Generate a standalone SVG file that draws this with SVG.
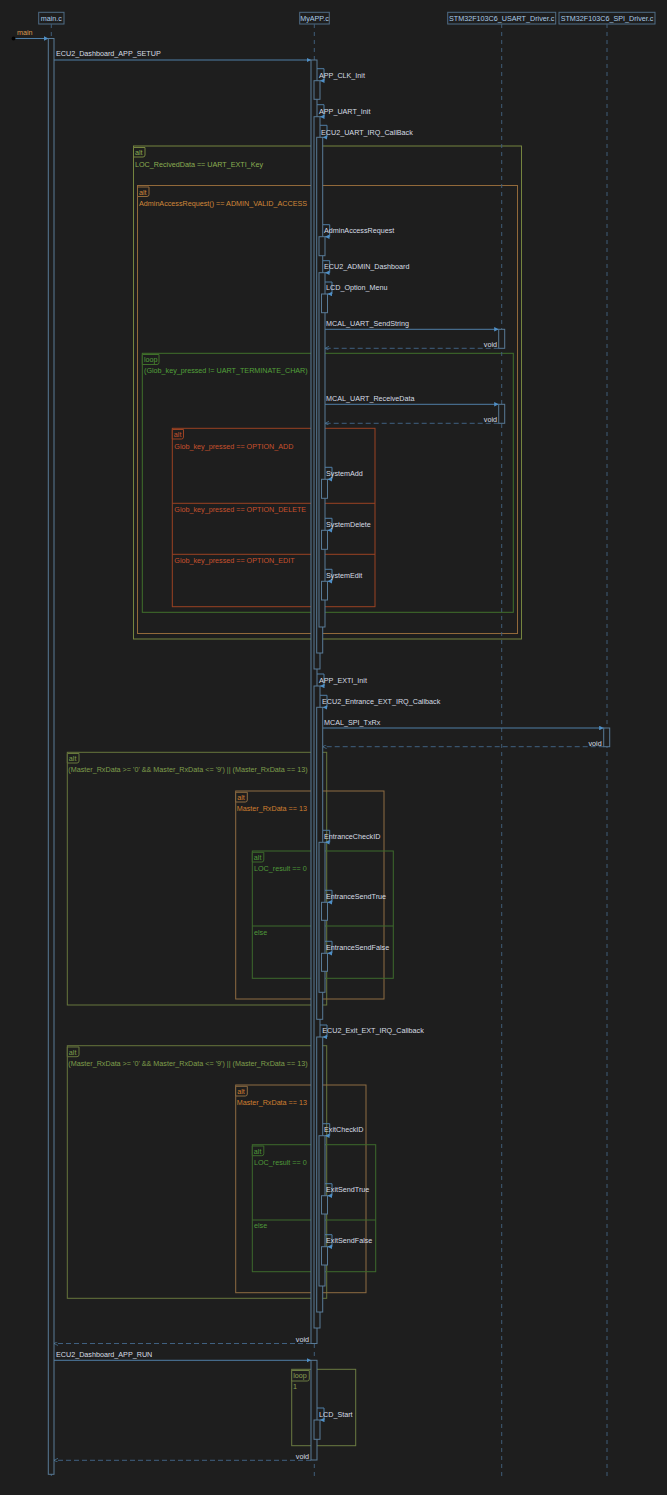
<svg xmlns="http://www.w3.org/2000/svg" width="667" height="1495" viewBox="0 0 667 1495">
<style>
text{font-family:"Liberation Sans",Arial,sans-serif;font-size:7.2px}
.hd rect{fill:#1e1e1e;stroke:#4f6c85;stroke-width:1}
.hd text{fill:#a9cbe8;text-anchor:middle}
.ll{stroke:#3f5d78;stroke-width:1;stroke-dasharray:4 4;fill:none}
.act{fill:#1e1e1e;stroke:#587a96;stroke-width:1}
.msg{stroke:#4f7ea6;stroke-width:1;fill:none;marker-end:url(#ah)}
.ret{stroke:#3f6080;stroke-width:1;stroke-dasharray:5 3;fill:none;marker-end:url(#rh)}
.lb{fill:#d6dde4}
.rl{fill:#d6dde4;text-anchor:end}
.fr{fill:none;stroke-width:1}
.tab{fill:#1e1e1e;stroke-width:1}
.ol{stroke:#75843f}.olt{fill:#8aae52}
.or{stroke:#92693a}.ort{fill:#d0883a}
.gr{stroke:#40702b}.grt{fill:#52a03a}
.rd{stroke:#9a4222}.rdt{fill:#c8512d}
.ol2{stroke:#67763c}.ol2t{fill:#7f9f4c}
.or2{stroke:#8e6c42}.or2t{fill:#cf7f30}
.gr2{stroke:#3d6a2c}.gr2t{fill:#4f9a3a}
.ol3{stroke:#6b7b42}.ol3t{fill:#8aa052}
</style>
<defs>
<marker id="ah" viewBox="0 0 6 6" refX="6" refY="3" markerWidth="4.5" markerHeight="4.5" markerUnits="userSpaceOnUse" orient="auto"><path d="M0,0 L6,3 L0,6 z" fill="#4f8fc6"/></marker>
<marker id="rh" viewBox="0 0 6 6" refX="6" refY="3" markerWidth="4" markerHeight="4" markerUnits="userSpaceOnUse" orient="auto"><path d="M0,0 L6,3 L0,6" fill="none" stroke="#4f7ea6" stroke-width="1"/></marker>
</defs>
<rect width="667" height="1495" fill="#1e1e1e"/>

<g id="frames">
<g id="alt-uart-key">
<rect class="fr ol" x="133.5" y="146" width="388" height="493"/>
<path class="tab ol" d="M133.5,147.5 H145 V155 Q145,157 143,157 H133.5 Z"/>
<text class="olt" x="135" y="155">alt</text>
<text class="olt" x="135" y="167">LOC_RecivedData == UART_EXTI_Key</text>
</g>
<g id="alt-admin">
<rect class="fr or" x="137.5" y="185.5" width="380" height="448"/>
<path class="tab or" d="M137.5,187 H149 V194.5 Q149,196.5 147,196.5 H137.5 Z"/>
<text class="ort" x="139" y="194.5">alt</text>
<text class="ort" x="139" y="206">AdminAccessRequest() == ADMIN_VALID_ACCESS</text>
</g>
<g id="loop-key">
<rect class="fr gr" x="142.3" y="353.3" width="371" height="259"/>
<path class="tab gr" d="M142.3,354.5 H159 V362.5 Q159,364.5 157,364.5 H142.3 Z"/>
<text class="grt" x="144" y="362">loop</text>
<text class="grt" x="144" y="373.3">(Glob_key_pressed != UART_TERMINATE_CHAR)</text>
</g>
<g id="alt-option">
<rect class="fr rd" x="172.3" y="428.3" width="202.7" height="178.4"/>
<path class="tab rd" d="M172.3,429.5 H183.5 V437 Q183.5,439 181.5,439 H172.3 Z"/>
<text class="rdt" x="173.8" y="436.8">alt</text>
<text class="rdt" x="174.3" y="449.3">Glob_key_pressed == OPTION_ADD</text>
<line class="fr rd" x1="172.3" y1="503.3" x2="375" y2="503.3"/>
<text class="rdt" x="174.3" y="512">Glob_key_pressed == OPTION_DELETE</text>
<line class="fr rd" x1="172.3" y1="554.3" x2="375" y2="554.3"/>
<text class="rdt" x="174.3" y="563">Glob_key_pressed == OPTION_EDIT</text>
</g>
<g id="alt-entrance-range">
<rect class="fr ol2" x="67.3" y="752.3" width="259.4" height="252.7"/>
<path class="tab ol2" d="M67.3,753.5 H79 V761 Q79,763 77,763 H67.3 Z"/>
<text class="ol2t" x="68.8" y="760.8">alt</text>
<text class="ol2t" x="68.3" y="772">(Master_RxData &gt;= '0' &amp;&amp; Master_RxData &lt;= '9') || (Master_RxData == 13)</text>
</g>
<g id="alt-entrance-13">
<rect class="fr or2" x="235.7" y="791" width="148.3" height="208"/>
<path class="tab or2" d="M235.7,792.3 H247.3 V800 Q247.3,802 245.3,802 H235.7 Z"/>
<text class="or2t" x="237.2" y="799.8">alt</text>
<text class="or2t" x="236.7" y="811.3">Master_RxData == 13</text>
</g>
<g id="alt-entrance-result">
<rect class="fr gr2" x="252.3" y="851" width="141" height="127.3"/>
<path class="tab gr2" d="M252.3,852.3 H263.8 V860 Q263.8,862 261.8,862 H252.3 Z"/>
<text class="gr2t" x="253.8" y="859.8">alt</text>
<text class="gr2t" x="254" y="871">LOC_result == 0</text>
<line class="fr gr2" x1="252.3" y1="926" x2="393.3" y2="926"/>
<text class="gr2t" x="254" y="935.3">else</text>
</g>
<g id="alt-exit-range">
<rect class="fr ol2" x="67.3" y="1045.7" width="259.4" height="252.6"/>
<path class="tab ol2" d="M67.3,1047 H79 V1054.7 Q79,1056.7 77,1056.7 H67.3 Z"/>
<text class="ol2t" x="68.8" y="1054.5">alt</text>
<text class="ol2t" x="68.3" y="1066">(Master_RxData &gt;= '0' &amp;&amp; Master_RxData &lt;= '9') || (Master_RxData == 13)</text>
</g>
<g id="alt-exit-13">
<rect class="fr or2" x="235.7" y="1085" width="130.3" height="207.7"/>
<path class="tab or2" d="M235.7,1086.3 H247.3 V1094 Q247.3,1096 245.3,1096 H235.7 Z"/>
<text class="or2t" x="237.2" y="1093.8">alt</text>
<text class="or2t" x="236.7" y="1105">Master_RxData == 13</text>
</g>
<g id="alt-exit-result">
<rect class="fr gr2" x="252.3" y="1144.7" width="123.4" height="127"/>
<path class="tab gr2" d="M252.3,1146 H263.8 V1153.7 Q263.8,1155.7 261.8,1155.7 H252.3 Z"/>
<text class="gr2t" x="253.8" y="1153.5">alt</text>
<text class="gr2t" x="254" y="1165.3">LOC_result == 0</text>
<line class="fr gr2" x1="252.3" y1="1220" x2="375.7" y2="1220"/>
<text class="gr2t" x="254" y="1228">else</text>
</g>
<g id="loop-run">
<rect class="fr ol3" x="291.7" y="1369.3" width="64" height="76.4"/>
<path class="tab ol3" d="M291.7,1370.5 H309.3 V1379 Q309.3,1381 307.3,1381 H291.7 Z"/>
<text class="ol3t" x="293.2" y="1378.3">loop</text>
<text class="ol3t" x="293" y="1389">1</text>
</g>
</g>

<g id="main.c" class="hd">
<rect x="38.7" y="12.3" width="25.3" height="11.7"/>
<text x="51.3" y="20.8">main.c</text>
<line class="ll" x1="51.3" y1="24" x2="51.3" y2="1480"/>
</g>
<g id="MyAPP.c" class="hd">
<rect x="299.7" y="12.3" width="29.6" height="11.7"/>
<text x="314.5" y="20.8">MyAPP.c</text>
<line class="ll" x1="314.3" y1="24" x2="314.3" y2="1480"/>
</g>
<g id="STM32F103C6_USART_Driver.c" class="hd">
<rect x="447.7" y="12.3" width="108" height="11.7"/>
<text x="501.7" y="20.8">STM32F103C6_USART_Driver.c</text>
<line class="ll" x1="501.7" y1="24" x2="501.7" y2="1480"/>
</g>
<g id="STM32F103C6_SPI_Driver.c" class="hd">
<rect x="559" y="12.3" width="96" height="11.7"/>
<text x="607" y="20.8">STM32F103C6_SPI_Driver.c</text>
<line class="ll" x1="607" y1="24" x2="607" y2="1480"/>
</g>

<g id="connectors">
<path class="msg" d="M13.5,38.5 H48.3"/>
<circle cx="13.5" cy="38.5" r="1.9" fill="#050505"/>
<text x="17" y="35.3" fill="#d99a50">main</text>
<path class="msg" d="M54,60 H311"/>
<text class="lb" x="56" y="56.2">ECU2_Dashboard_APP_SETUP</text>
<path class="msg" d="M317,68.7 H324 V80.7 H320"/>
<text class="lb" x="319" y="78.3">APP_CLK_Init</text>
<path class="msg" d="M317,104.7 H324 V116.7 H320"/>
<text class="lb" x="319" y="113.6">APP_UART_Init</text>
<path class="msg" d="M320,125.3 H327 V137.3 H322.7"/>
<text class="lb" x="321" y="134.6">ECU2_UART_IRQ_CallBack</text>
<path class="msg" d="M322.7,224.7 H329.7 V236.7 H325"/>
<text class="lb" x="324" y="233">AdminAccessRequest</text>
<path class="msg" d="M322.7,260.7 H329.7 V272.7 H325"/>
<text class="lb" x="324" y="269">ECU2_ADMIN_Dashboard</text>
<path class="msg" d="M325,282 H332 V294 H327.5"/>
<text class="lb" x="326" y="290.3">LCD_Option_Menu</text>
<path class="msg" d="M325,329.3 H498.7"/>
<text class="lb" x="326" y="326.2">MCAL_UART_SendString</text>
<path class="ret" d="M498.7,348.3 H325"/>
<text class="rl" x="497" y="347.2">void</text>
<path class="msg" d="M325,404.3 H498.7"/>
<text class="lb" x="326" y="401.1">MCAL_UART_ReceiveData</text>
<path class="ret" d="M498.7,423.3 H325"/>
<text class="rl" x="497" y="422.1">void</text>
<path class="msg" d="M325,467.3 H332 V479.3 H327.5"/>
<text class="lb" x="326" y="476">SystemAdd</text>
<path class="msg" d="M325,518.3 H332 V530.3 H327.5"/>
<text class="lb" x="326" y="527">SystemDelete</text>
<path class="msg" d="M325,569.3 H332 V581.3 H327.5"/>
<text class="lb" x="326" y="578">SystemEdit</text>
<path class="msg" d="M317,674 H324 V686 H320"/>
<text class="lb" x="319" y="683">APP_EXTI_Init</text>
<path class="msg" d="M320,695.3 H327 V707.3 H322.7"/>
<text class="lb" x="322" y="703.8">ECU2_Entrance_EXT_IRQ_Callback</text>
<path class="msg" d="M322.7,728 H603.7"/>
<text class="lb" x="324" y="725">MCAL_SPI_TxRx</text>
<path class="ret" d="M603.7,746.7 H322.7"/>
<text class="rl" x="601.7" y="745.8">void</text>
<path class="msg" d="M322.7,830.3 H329.7 V842.3 H325"/>
<text class="lb" x="324" y="839.3">EntranceCheckID</text>
<path class="msg" d="M325,890.3 H332 V902.3 H327.5"/>
<text class="lb" x="326" y="899.3">EntranceSendTrue</text>
<path class="msg" d="M325,941.3 H332 V953.3 H327.5"/>
<text class="lb" x="326" y="950.3">EntranceSendFalse</text>
<path class="msg" d="M320,1025 H327 V1037 H322.7"/>
<text class="lb" x="322.3" y="1032.8">ECU2_Exit_EXT_IRQ_Callback</text>
<path class="msg" d="M322.7,1123.7 H329.7 V1135.7 H325"/>
<text class="lb" x="324" y="1132">ExitCheckID</text>
<path class="msg" d="M325,1183.7 H332 V1195.7 H327.5"/>
<text class="lb" x="326" y="1192">ExitSendTrue</text>
<path class="msg" d="M325,1234.7 H332 V1246.7 H327.5"/>
<text class="lb" x="326" y="1243.3">ExitSendFalse</text>
<path class="ret" d="M311,1343.5 H54"/>
<text class="rl" x="309" y="1342.2">void</text>
<path class="msg" d="M54,1360.3 H311"/>
<text class="lb" x="56" y="1357.2">ECU2_Dashboard_APP_RUN</text>
<path class="msg" d="M317,1408 H324 V1420 H320"/>
<text class="lb" x="319" y="1417">LCD_Start</text>
<path class="ret" d="M311,1460.3 H54"/>
<text class="rl" x="309" y="1459.2">void</text>
</g>

<g id="activations">
<rect class="act" x="48.3" y="38.5" width="5.7" height="1435.8"/>
<rect class="act" x="311" y="60" width="6" height="1283.5"/>
<rect class="act" x="314" y="80.7" width="6" height="18.6"/>
<rect class="act" x="314" y="116.7" width="6" height="552.3"/>
<rect class="act" x="316.7" y="137.3" width="6" height="515.7"/>
<rect class="act" x="319" y="236.7" width="6" height="19"/>
<rect class="act" x="319" y="272.7" width="6" height="354.3"/>
<rect class="act" x="321.5" y="294" width="6" height="18.7"/>
<rect class="act" x="321.5" y="479.3" width="6" height="19"/>
<rect class="act" x="321.5" y="530.3" width="6" height="19"/>
<rect class="act" x="321.5" y="581.3" width="6" height="18.7"/>
<rect class="act" x="314" y="686" width="6" height="642"/>
<rect class="act" x="316.7" y="707.3" width="6" height="312"/>
<rect class="act" x="319" y="842.3" width="6" height="150"/>
<rect class="act" x="321.5" y="902.3" width="6" height="18"/>
<rect class="act" x="321.5" y="953.3" width="6" height="18"/>
<rect class="act" x="316.7" y="1037" width="6" height="275"/>
<rect class="act" x="319" y="1135.7" width="6" height="150.3"/>
<rect class="act" x="321.5" y="1195.7" width="6" height="18.3"/>
<rect class="act" x="321.5" y="1246.7" width="6" height="18.3"/>
<rect class="act" x="311" y="1360.3" width="6" height="99.7"/>
<rect class="act" x="314" y="1420" width="6" height="19.3"/>
<rect class="act" x="498.7" y="329.3" width="6" height="19"/>
<rect class="act" x="498.7" y="404.3" width="6" height="19"/>
<rect class="act" x="603.7" y="728" width="6" height="18.7"/>
</g>
</svg>
